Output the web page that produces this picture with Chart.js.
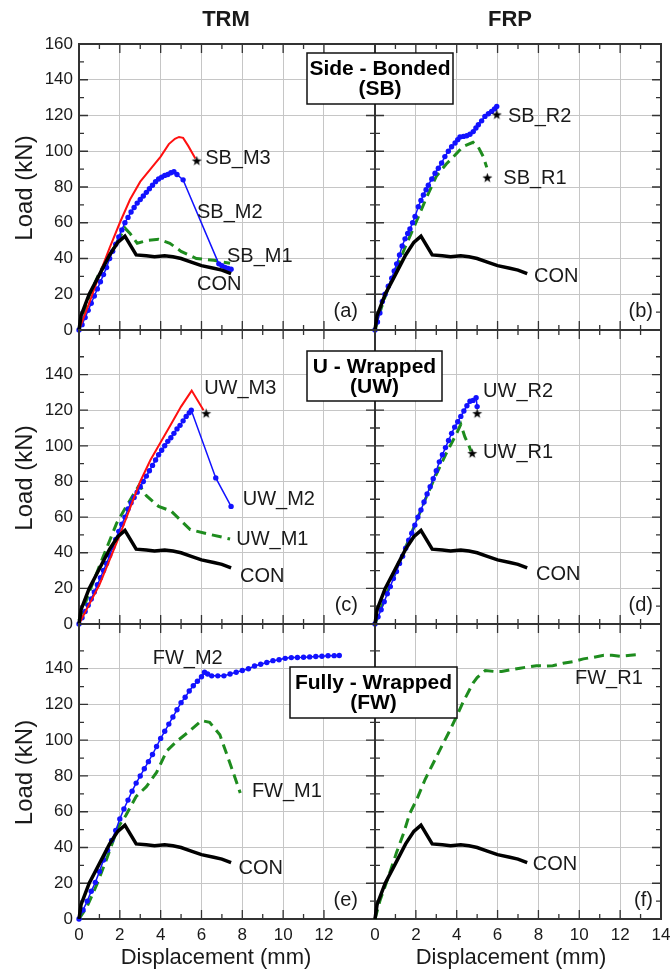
<!DOCTYPE html>
<html>
<head>
<meta charset="utf-8">
<script src="https://cdn.jsdelivr.net/npm/chart.js@4.4.1/dist/chart.umd.min.js"></script>
<style>
  html, body { margin: 0; padding: 0; background: #fff; }
  #wrap { position: relative; width: 670px; height: 971px; }
  #wrap canvas { position: absolute; left: 0; top: 0; }
</style>
</head>
<body>
<div id="wrap"></div>
<script>
// ---- tick values ----
const xTicksTRM = [0, 1, 2, 3, 4, 5, 6, 7, 8, 9, 10, 11, 12];
const xTicksFRP = [0, 1, 2, 3, 4, 5, 6, 7, 8, 9, 10, 11, 12, 13, 14];
const yTicksTop = [0, 10, 20, 30, 40, 50, 60, 70, 80, 90, 100, 110, 120, 130, 140, 150, 160];
const yTicksLow = [0, 10, 20, 30, 40, 50, 60, 70, 80, 90, 100, 110, 120, 130, 140, 150];

// ---- control beam (same in every panel) ----
const con = [[0,0],[0.1,8],[0.5,20],[1.0,31],[1.5,42],[1.9,49],[2.25,52.5],[2.8,42],[3.3,41.5],[3.7,41],
  [4.2,41.5],[4.6,41],[5.0,40],[5.5,38],[6.0,36],[6.6,34.5],[7.0,33.5],[7.45,31.5]];

// ---- side bonded ----
const sbM3 = [[0,0],[0.5,15],[1.0,31],[1.5,46],[2.0,60],[2.5,73],[3.0,83],[3.5,90],[4.0,97],[4.4,104],
  [4.7,107],[4.9,108],[5.1,107.5],[5.35,103],[5.7,96]];
const sbM2 = [[0,0],[0.15,3],[0.3,7],[0.45,11],[0.6,15],[0.75,19],[0.9,23],[1.05,27],[1.2,31],[1.35,35],
  [1.5,40],[1.65,44],[1.8,48],[1.95,52],[2.1,56],[2.25,60],[2.4,63],[2.55,66],[2.7,68.5],[2.85,71],
  [3.0,73],[3.15,75],[3.3,77],[3.45,79],[3.6,81],[3.75,83],[3.9,84.5],[4.05,85.5],[4.2,86.5],[4.35,87],
  [4.5,88],[4.65,88.5],[4.8,87],[5.1,84],[6.85,37],[7.0,36],[7.15,35],[7.3,34.5],[7.45,34]];
const sbM1 = [[0,0],[0.5,19],[1.0,32],[1.5,42],[2.0,52],[2.25,57],[2.5,54],[2.85,48.5],[3.3,50],[3.9,50.7],
  [4.45,48.5],[5.0,44],[5.75,40],[6.6,39],[7.4,37.3]];
const sbR2 = [[0,0],[0.12,4.5],[0.24,9.5],[0.36,16],[0.49,20],[0.65,24.5],[0.82,29],[0.94,33],[1.06,37],
  [1.2,42],[1.33,47],[1.47,51],[1.6,54],[1.71,56.5],[1.84,60],[1.96,63.5],[2.12,69],[2.25,72.5],[2.37,75.5],
  [2.5,78.5],[2.61,81],[2.78,84.5],[2.94,87.7],[3.1,90.5],[3.26,93.4],[3.42,97],[3.59,100],[3.75,102.5],
  [3.92,104.6],[4.05,106.5],[4.16,108],[4.33,108.3],[4.49,108.7],[4.65,109.5],[4.81,111],[4.94,113],
  [5.06,114.8],[5.22,117],[5.38,119.5],[5.55,121],[5.71,122.3],[5.85,123.7],[5.96,125]];
const sbR1 = [[0,0],[0.3,12],[0.6,22],[1.0,33],[1.5,47],[2.0,60],[2.5,73.5],[3.0,86],[3.5,93],[3.85,97],
  [4.3,102.5],[4.8,105],[5.05,102.5],[5.3,97],[5.47,91]];

// ---- U wrapped ----
const uwM3 = [[0,0],[0.5,11],[1.0,22],[1.5,36],[2.0,50],[2.5,65],[3.0,80],[3.5,92],[4.0,102],[4.5,112],
  [5.0,122],[5.52,131],[6.1,120]];
const uwM2 = [[0,0],[0.15,3.5],[0.3,7],[0.45,10.5],[0.6,14],[0.75,18],[0.9,22],[1.05,26],[1.2,30],[1.35,34],
  [1.5,38.5],[1.65,43],[1.8,47.5],[1.95,52],[2.1,56],[2.25,60],[2.4,64.5],[2.55,68],[2.7,71],[2.85,74],
  [3.0,77],[3.15,80],[3.3,83],[3.45,86],[3.6,89],[3.75,92],[3.9,95],[4.05,97.5],[4.2,100],[4.35,102.5],
  [4.5,104.5],[4.65,107],[4.8,109.5],[4.95,111.5],[5.1,114],[5.25,116.5],[5.4,118.5],[5.5,120],
  [6.7,82],[7.45,66]];
const uwM1 = [[0,2],[0.54,19],[1.19,38],[1.85,56.7],[2.42,68],[2.95,78],[3.3,72],[3.9,66],[4.5,63.5],
  [4.95,58.5],[5.45,53],[6.25,50.7],[7.4,47.7]];
const uwR2 = [[0,0],[0.15,4],[0.3,8],[0.45,12.5],[0.6,17],[0.75,21],[0.9,25.5],[1.05,29.5],[1.2,34],
  [1.35,38],[1.5,42.5],[1.65,47],[1.8,51],[1.95,55.5],[2.1,60],[2.25,64],[2.4,68.5],[2.55,73],[2.7,77],
  [2.85,81.5],[3.0,86],[3.15,91],[3.3,95],[3.45,99],[3.6,103],[3.75,107],[3.9,110.5],[4.05,113.5],
  [4.2,116.5],[4.35,119.5],[4.5,122.5],[4.65,125],[4.8,125.5],[4.95,127],[5.0,122]];
const uwR1 = [[0,0],[0.5,15],[1.0,29],[1.5,43],[2.0,57],[2.5,71],[3.0,84],[3.5,96],[4.0,107],[4.2,112],
  [4.4,105],[4.6,100],[4.7,97]];

// ---- fully wrapped ----
const fwM2 = [[0,0],[0.2,5],[0.4,10],[0.6,15.5],[0.8,20.5],[1.0,26.5],[1.2,33],[1.4,38.5],[1.6,44],
  [1.8,49.5],[2.0,56],[2.2,61.5],[2.4,66.5],[2.6,71.5],[2.8,76],[3.0,80],[3.2,84],[3.4,88],[3.6,92],
  [3.8,96.5],[4.0,101],[4.2,105],[4.4,109],[4.6,113],[4.8,117],[5.0,121],[5.2,124],[5.4,127.5],
  [5.6,130.5],[5.8,133],[6.0,135.5],[6.15,138],[6.3,137],[6.5,136],[6.8,136],[7.1,136],[7.4,137],
  [7.7,138],[8.0,139],[8.3,140],[8.6,141.5],[8.9,142.5],[9.2,143.5],[9.5,144.5],[9.8,145],[10.1,145.8],
  [10.4,146.2],[10.7,146.3],[11.0,146.4],[11.3,146.6],[11.6,146.8],[11.9,147],[12.2,147.2],[12.5,147.3],
  [12.75,147.4]];
const fwM1 = [[0,0],[0.4,7],[0.9,20],[1.4,35],[1.9,51],[2.3,58],[2.8,68.5],[3.3,74],[3.8,82],[4.3,94],
  [4.8,99.5],[5.4,105],[6.0,111],[6.4,110],[6.9,103],[7.4,87],[7.9,70.5]];
const fwR1 = [[0,0],[0.25,10.5],[0.7,25],[1.05,37],[1.4,48],[1.7,59],[2.05,67],[2.45,78],[2.8,86],
  [3.35,98.5],[3.6,104],[4.0,113.5],[4.3,121],[4.8,132],[5.0,135],[5.4,139],[5.8,138.5],[6.2,138.5],
  [6.7,139.5],[7.1,140.3],[7.5,141],[7.9,141.7],[8.3,141.5],[8.7,141.7],[9.2,143],[9.7,144],[10.2,145.5],
  [10.7,146.4],[11.2,147.5],[11.6,147.5],[12.0,147],[12.5,147.5],[13.05,148]];

// ---- failure points (stars) ----
const starsA = [[5.77,94.5]];
const starsB = [[5.96,120.3],[5.5,85]];
const starsC = [[6.23,118]];
const starsD = [[5.0,118],[4.76,95.6]];

const FONT = '"Liberation Sans", Arial, Helvetica, sans-serif';
const INK = '#1a1a1a';
const AXIS = '#333';

const STYLE = {
  con:   { borderColor: '#000', borderWidth: 3.5, pointRadius: 0 },
  red:   { borderColor: '#ff1010', borderWidth: 2, pointRadius: 0 },
  blue:  { borderColor: '#1212ff', borderWidth: 1.5, pointRadius: 2.7, pointBackgroundColor: '#1212ff', pointBorderWidth: 0 },
  green: { borderColor: '#1e8c1e', borderWidth: 3, pointRadius: 0, borderDash: [10, 6] }
};

// small filled star used as point marker
const starImg = document.createElement('canvas');
starImg.width = 11; starImg.height = 11;
(function () {
  const c = starImg.getContext('2d');
  c.beginPath();
  for (let i = 0; i < 10; i++) {
    const r = i % 2 ? 2.1 : 5.2;
    const a = -Math.PI / 2 + i * Math.PI / 5;
    c.lineTo(5.5 + r * Math.cos(a), 5.5 + r * Math.sin(a));
  }
  c.closePath();
  c.fillStyle = '#000';
  c.fill();
})();

const L = [79, 375], R = [375, 661];
const rows = [[44, 330], [330, 624], [624, 919]];

const panels = [
  { col: L, row: rows[0], xMax: 14.5, yMax: 160, xTicks: xTicksTRM, yTicks: yTicksTop, letter: '(a)', ldx: 17,
    yTitle: true, colTitle: ['TRM', 226],
    series: [[sbM3, 'red'], [sbM2, 'blue'], [sbM1, 'green']], stars: starsA,
    notes: [['SB_M3', 6.18, 95.7], ['SB_M2', 5.78, 66], ['SB_M1', 7.25, 41.4], ['CON', 5.78, 25.2]] },
  { col: R, row: rows[0], xMax: 14, yMax: 160, xTicks: xTicksFRP, yTicks: yTicksTop, letter: '(b)', ldx: 8,
    colTitle: ['FRP', 510], box: [307, 53, 146, 51, 'Side - Bonded', '(SB)'],
    series: [[sbR2, 'blue'], [sbR1, 'green']], stars: starsB,
    notes: [['SB_R2', 6.51, 119.3], ['SB_R1', 6.28, 84.9], ['CON', 7.78, 29.7]] },
  { col: L, row: rows[1], xMax: 14.5, yMax: 165, xTicks: xTicksTRM, yTicks: yTicksLow, letter: '(c)', ldx: 17,
    yTitle: true,
    series: [[uwM3, 'red'], [uwM2, 'blue'], [uwM1, 'green']], stars: starsC,
    notes: [['UW_M3', 6.13, 132.4], ['UW_M2', 8.02, 69.8], ['UW_M1', 7.7, 47.3], ['CON', 7.89, 26.7]] },
  { col: R, row: rows[1], xMax: 14, yMax: 165, xTicks: xTicksFRP, yTicks: yTicksLow, letter: '(d)', ldx: 8,
    box: [307, 351, 135, 50, 'U - Wrapped', '(UW)'],
    series: [[uwR2, 'blue'], [uwR1, 'green']], stars: starsD,
    notes: [['UW_R2', 5.29, 130.5], ['UW_R1', 5.29, 96], ['CON', 7.88, 27.7]] },
  { col: L, row: rows[2], xMax: 14.5, yMax: 165, xTicks: xTicksTRM, yTicks: yTicksLow, letter: '(e)', ldx: 17,
    yTitle: true, xTitle: 216, xLabels: true,
    series: [[fwM2, 'blue'], [fwM1, 'green']], stars: [],
    notes: [['FW_M2', 3.61, 145.7], ['FW_M1', 8.47, 71.4], ['CON', 7.81, 28.5]] },
  { col: R, row: rows[2], xMax: 14, yMax: 165, xTicks: xTicksFRP, yTicks: yTicksLow, letter: '(f)', ldx: 8,
    xTitle: 511, xLabels: true, box: [290, 667, 167, 51, 'Fully - Wrapped', '(FW)'],
    series: [[fwR1, 'green']], stars: [],
    notes: [['FW_R1', 9.79, 134.5], ['CON', 7.72, 30.3]] }
];

const pts = arr => arr.map(([x, y]) => ({ x, y }));

function decor(p) {
  return {
    id: 'decor',
    beforeDatasetsDraw(chart) {
      const { ctx, chartArea: a, scales: { x, y } } = chart;
      ctx.save();
      ctx.strokeStyle = AXIS;
      ctx.lineWidth = 1.3;
      ctx.beginPath();
      x.ticks.forEach(t => {
        const px = x.getPixelForValue(t.value);
        const len = t.value % 2 === 0 ? 9 : 5;
        ctx.moveTo(px, a.bottom); ctx.lineTo(px, a.bottom - len);
        ctx.moveTo(px, a.top); ctx.lineTo(px, a.top + len);
      });
      y.ticks.forEach(t => {
        const py = y.getPixelForValue(t.value);
        const len = t.value % 20 === 0 ? 9 : 5;
        ctx.moveTo(a.left, py); ctx.lineTo(a.left + len, py);
        ctx.moveTo(a.right, py); ctx.lineTo(a.right - len, py);
      });
      ctx.stroke();
      ctx.lineWidth = 2;
      ctx.strokeRect(a.left, a.top, a.right - a.left, a.bottom - a.top);
      ctx.restore();
    },
    afterDraw(chart) {
      const { ctx, chartArea: a, scales: { x, y } } = chart;
      ctx.save();
      ctx.fillStyle = INK;
      ctx.textBaseline = 'middle';
      ctx.font = '20px ' + FONT;
      ctx.textAlign = 'left';
      p.notes.forEach(([txt, vx, vy]) => ctx.fillText(txt, x.getPixelForValue(vx), y.getPixelForValue(vy)));
      ctx.textAlign = 'right';
      ctx.fillText(p.letter, a.right - p.ldx, a.bottom - 19);

      if (p.yTitle) {
        ctx.save();
        ctx.translate(25, (a.top + a.bottom) / 2 + 1);
        ctx.rotate(-Math.PI / 2);
        ctx.textAlign = 'center';
        ctx.font = '24px ' + FONT;
        ctx.fillText('Load (kN)', 0, 0);
        ctx.restore();
      }
      if (p.xTitle) {
        ctx.textAlign = 'center';
        ctx.font = '22px ' + FONT;
        ctx.fillText('Displacement (mm)', p.xTitle, 958);
      }
      if (p.colTitle) {
        ctx.textAlign = 'center';
        ctx.font = 'bold 22px ' + FONT;
        ctx.fillText(p.colTitle[0], p.colTitle[1], 20);
      }
      if (p.box) {
        const [bx, by, bw, bh, t1, t2] = p.box;
        ctx.fillStyle = '#fff';
        ctx.fillRect(bx, by, bw, bh);
        ctx.strokeStyle = '#111';
        ctx.lineWidth = 1.5;
        ctx.strokeRect(bx, by, bw, bh);
        ctx.fillStyle = '#000';
        ctx.textAlign = 'center';
        ctx.font = 'bold 21px ' + FONT;
        ctx.fillText(t1, bx + bw / 2, by + bh / 2 - 9);
        ctx.fillText(t2, bx + bw / 2, by + bh / 2 + 11);
      }
      ctx.restore();
    }
  };
}

const wrap = document.getElementById('wrap');

panels.forEach(p => {
  const cv = document.createElement('canvas');
  cv.width = 670; cv.height = 971;
  wrap.appendChild(cv);

  const datasets = [];
  if (p.stars.length) {
    datasets.push({ data: pts(p.stars), showLine: false, pointStyle: starImg, pointRadius: 5, clip: false });
  }
  datasets.push(Object.assign({ data: pts(con), clip: false }, STYLE.con));
  p.series.forEach(([d, kind]) => datasets.push(Object.assign({ data: pts(d), clip: false }, STYLE[kind])));

  // axis boxes sized so the plot area lands on the panel rectangle
  const yW = p.yTitle ? 70 : 0;
  const xH = p.xLabels ? 40 : 0;

  new Chart(cv, {
    type: 'line',
    data: { datasets },
    options: {
      responsive: false,
      animation: false,
      events: [],
      layout: { padding: { left: p.col[0] - yW, right: 670 - p.col[1], top: p.row[0], bottom: 971 - p.row[1] - xH } },
      plugins: { legend: { display: false }, tooltip: { enabled: false } },
      elements: { line: { tension: 0 } },
      scales: {
        x: {
          type: 'linear', min: 0, max: p.xMax,
          afterBuildTicks: s => { s.ticks = p.xTicks.map(v => ({ value: v })); },
          afterFit: s => { s.height = xH; s.paddingLeft = 0; s.paddingRight = 0; },
          border: { display: false },
          grid: { drawTicks: false, lineWidth: 1,
            color: c => (c.tick && c.tick.value % 2 === 0) ? '#c6c6c6' : 'rgba(0,0,0,0)' },
          ticks: { autoSkip: false, maxRotation: 0, minRotation: 0, padding: 6, color: INK,
            font: { family: FONT, size: 17 },
            callback: v => (p.xLabels && v % 2 === 0) ? String(v) : '' }
        },
        y: {
          type: 'linear', min: 0, max: p.yMax,
          afterBuildTicks: s => { s.ticks = p.yTicks.map(v => ({ value: v })); },
          afterFit: s => { s.width = yW; s.paddingTop = 0; s.paddingBottom = 0; },
          border: { display: false },
          grid: { drawTicks: false, lineWidth: 1,
            color: c => (c.tick && c.tick.value % 20 === 0) ? '#c6c6c6' : 'rgba(0,0,0,0)' },
          ticks: { autoSkip: false, padding: 6, color: INK,
            font: { family: FONT, size: 17 },
            callback: v => (p.yTitle && v % 20 === 0) ? String(v) : '' }
        }
      }
    },
    plugins: [decor(p)]
  });
});
</script>
</body>
</html>
